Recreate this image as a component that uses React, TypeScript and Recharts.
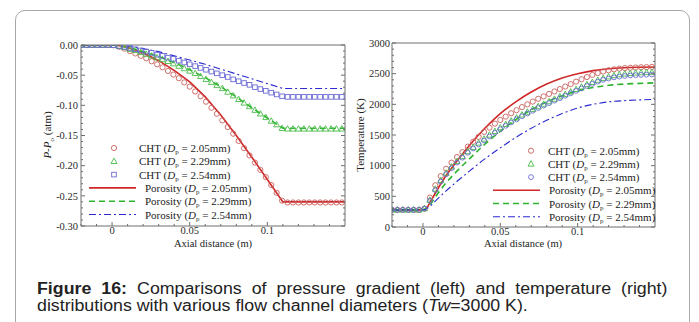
import React from "react";
import { ComposedChart, Line, Scatter, XAxis, YAxis } from "recharts";

// CHT sample positions along the channel (m)
const markerX = [
  -0.02, -0.0165, -0.013, -0.0095, -0.006, -0.0025, 0.001, 0.0045, 0.008, 0.0115,
  0.015, 0.0185, 0.022, 0.0255, 0.029, 0.0325, 0.036, 0.0395, 0.043, 0.0465,
  0.05, 0.0535, 0.057, 0.0605, 0.064, 0.0675, 0.071, 0.0745, 0.078, 0.0815,
  0.085, 0.0885, 0.092, 0.0955, 0.099, 0.1025, 0.106, 0.1095, 0.113, 0.1165,
  0.12, 0.1235, 0.127, 0.1305, 0.134, 0.1375, 0.141, 0.1445, 0.148,
];

// left: pressure P-Po (atm), CHT
const pCht205 = [
  0, 0, 0, 0, 0, 0, -0.0005, -0.003, -0.006, -0.01,
  -0.014, -0.018, -0.022, -0.027, -0.032, -0.037, -0.043, -0.049, -0.055, -0.062,
  -0.069, -0.077, -0.085, -0.094, -0.104, -0.114, -0.125, -0.136, -0.147, -0.159,
  -0.171, -0.183, -0.195, -0.207, -0.219, -0.232, -0.245, -0.258, -0.261, -0.261,
  -0.261, -0.261, -0.261, -0.261, -0.261, -0.261, -0.261, -0.261, -0.261,
];
const pCht229 = [
  0, 0, 0, 0, 0, 0, -0.0005, -0.002, -0.004, -0.007,
  -0.009, -0.012, -0.015, -0.018, -0.021, -0.024, -0.027, -0.031, -0.035, -0.039,
  -0.043, -0.047, -0.052, -0.057, -0.062, -0.067, -0.072, -0.078, -0.084, -0.09,
  -0.096, -0.102, -0.108, -0.114, -0.12, -0.126, -0.132, -0.138, -0.139, -0.139,
  -0.139, -0.139, -0.139, -0.139, -0.139, -0.139, -0.139, -0.139, -0.139,
];
const pCht254 = [
  0, 0, 0, 0, 0, 0, -0.0003, -0.0015, -0.003, -0.005,
  -0.007, -0.009, -0.011, -0.013, -0.016, -0.018, -0.021, -0.023, -0.026, -0.029,
  -0.032, -0.035, -0.038, -0.041, -0.044, -0.047, -0.05, -0.053, -0.057, -0.06,
  -0.063, -0.066, -0.07, -0.073, -0.076, -0.079, -0.082, -0.085, -0.086, -0.086,
  -0.086, -0.086, -0.086, -0.086, -0.086, -0.086, -0.086, -0.086, -0.086,
];

// left: porosity model
const pLineX = [-0.02, 0, 0.005, 0.01, 0.02, 0.03, 0.04, 0.05, 0.06, 0.07, 0.08, 0.09, 0.1, 0.11, 0.15];
const pPor205 = [0, 0, -0.001, -0.004, -0.013, -0.026, -0.042, -0.061, -0.086, -0.116, -0.15, -0.186, -0.223, -0.26, -0.26];
const pPor229 = [0, 0, -0.001, -0.004, -0.011, -0.019, -0.029, -0.041, -0.054, -0.069, -0.086, -0.104, -0.121, -0.138, -0.138];
const pPor254 = [0, 0, -0.0005, -0.002, -0.006, -0.011, -0.018, -0.025, -0.032, -0.04, -0.048, -0.056, -0.064, -0.072, -0.072];

// right: temperature (K), CHT
const tCht205 = [
  280, 280, 280, 280, 280, 280, 300, 480, 680, 830,
  950, 1050, 1140, 1220, 1310, 1390, 1470, 1550, 1620, 1685,
  1745, 1800, 1855, 1905, 1955, 2000, 2045, 2090, 2130, 2170,
  2210, 2250, 2290, 2330, 2370, 2410, 2445, 2480, 2510, 2535,
  2555, 2570, 2582, 2590, 2596, 2600, 2604, 2607, 2610,
];
const tCht229 = [
  280, 280, 280, 280, 280, 280, 300, 440, 620, 760,
  880, 980, 1070, 1150, 1230, 1300, 1370, 1435, 1500, 1560,
  1620, 1675, 1730, 1780, 1830, 1875, 1920, 1965, 2005, 2045,
  2085, 2125, 2165, 2205, 2245, 2285, 2325, 2360, 2395, 2425,
  2450, 2470, 2485, 2497, 2505, 2512, 2517, 2521, 2525,
];
const tCht254 = [
  280, 280, 280, 280, 280, 280, 300, 430, 600, 740,
  860, 960, 1050, 1130, 1210, 1280, 1345, 1410, 1475, 1535,
  1595, 1650, 1705, 1755, 1805, 1850, 1895, 1940, 1980, 2020,
  2060, 2100, 2140, 2180, 2220, 2260, 2300, 2335, 2370, 2400,
  2420, 2440, 2452, 2462, 2470, 2476, 2480, 2483, 2486,
];

// right: porosity model
const tLineX = [-0.02, 0, 0.002, 0.005, 0.01, 0.015, 0.02, 0.03, 0.04, 0.05, 0.06, 0.07, 0.08, 0.09, 0.1, 0.11, 0.12, 0.13, 0.14, 0.15];
const tPor205 = [280, 280, 300, 420, 640, 840, 1010, 1330, 1610, 1850, 2040, 2200, 2330, 2430, 2500, 2550, 2580, 2597, 2605, 2610];
const tPor229 = [280, 280, 300, 380, 560, 720, 860, 1110, 1350, 1560, 1750, 1910, 2040, 2140, 2220, 2275, 2310, 2330, 2342, 2350];
const tPor254 = [280, 280, 295, 350, 470, 590, 700, 910, 1110, 1290, 1460, 1610, 1740, 1850, 1940, 2000, 2040, 2060, 2072, 2080];

// axis ticks (labelled + minor)
const xTicks = [0, 0.05, 0.1];
const xMinor = [-0.02, -0.01, 0.01, 0.02, 0.03, 0.04, 0.06, 0.07, 0.08, 0.09, 0.11, 0.12, 0.13, 0.14];
const pTicks = [-0.3, -0.25, -0.2, -0.15, -0.1, -0.05, 0];
const pMinor = [
  -0.29, -0.28, -0.27, -0.26, -0.24, -0.23, -0.22, -0.21, -0.19, -0.18, -0.17, -0.16,
  -0.14, -0.13, -0.12, -0.11, -0.09, -0.08, -0.07, -0.06, -0.04, -0.03, -0.02, -0.01,
];
const tTicks = [0, 500, 1000, 1500, 2000, 2500, 3000];
const tMinor = [
  100, 200, 300, 400, 600, 700, 800, 900, 1100, 1200, 1300, 1400, 1600, 1700, 1800, 1900,
  2100, 2200, 2300, 2400, 2600, 2700, 2800, 2900,
];

const sizes = ["2.05", "2.29", "2.54"];

const RED = "#d02828";
const GREEN = "#2cb52c";
const BLUE = "#2a2ad0";
const RED_M = "#c8605c";
const GREEN_M = "#48bb48";
const BLUE_M = "#6a6ad4";
const AXIS = "#6e6e6e";
const SERIF = "'Liberation Serif', 'Times New Roman', serif";
const FONT = { fontFamily: SERIF, fontSize: 10.5, fill: "#2a2a2a" };

const pts = (xs: number[], ys: number[]) => xs.map((x, i) => ({ x, y: ys[i] }));

const Circle = (p: any) => <circle cx={p.cx} cy={p.cy} r={2.6} fill="none" stroke={RED_M} strokeWidth={0.9} />;
const CircleBlue = (p: any) => <circle cx={p.cx} cy={p.cy} r={2.4} fill="none" stroke={BLUE_M} strokeWidth={0.9} />;
const Tri = (p: any) => (
  <polygon
    points={`${p.cx},${p.cy - 3.2} ${p.cx - 3},${p.cy + 2.2} ${p.cx + 3},${p.cy + 2.2}`}
    fill="none"
    stroke={GREEN_M}
    strokeWidth={0.9}
  />
);
const Sq = (p: any) => (
  <rect x={p.cx - 2.3} y={p.cy - 2.3} width={4.6} height={4.6} fill="none" stroke={BLUE_M} strokeWidth={0.9} />
);

// inward tick marks, long for labelled ticks, short for minor ones
function makeTick(side: "bottom" | "top" | "left" | "right", majors: number[], fmt?: (v: number) => string, gap = 4) {
  return (p: any) => {
    const v = p.payload.value;
    const major = majors.some((m) => Math.abs(m - v) < 1e-9);
    const len = major ? 4 : 2;
    const { x, y } = p;
    if (side === "bottom" || side === "top") {
      const y2 = side === "bottom" ? y - len : y + len;
      return (
        <g>
          <line x1={x} x2={x} y1={y} y2={y2} stroke={AXIS} />
          {major && fmt && (
            <text x={x} y={y + gap} dy="0.71em" textAnchor="middle" {...FONT}>
              {fmt(v)}
            </text>
          )}
        </g>
      );
    }
    const x2 = side === "left" ? x + len : x - len;
    return (
      <g>
        <line x1={x} x2={x2} y1={y} y2={y} stroke={AXIS} />
        {major && fmt && (
          <text x={x - gap} y={y} dy="0.355em" textAnchor="end" {...FONT}>
            {fmt(v)}
          </text>
        )}
      </g>
    );
  };
}

function frameAxes(
  xDomain: number[],
  yDomain: number[],
  yTicks: number[],
  yMinor: number[],
  yFormat: (v: number) => string,
  yGap: number
) {
  const common = {
    type: "number" as const,
    allowDataOverflow: true,
    interval: 0 as const,
    stroke: AXIS,
    tickLine: false,
    tickSize: 0,
    tickMargin: 0,
  };
  const xAll = [...xMinor, ...xTicks];
  const yAll = [...yMinor, ...yTicks];
  return [
    <XAxis key="xb" xAxisId={0} dataKey="x" domain={xDomain} ticks={xAll} height={1} tick={makeTick("bottom", xTicks, (v) => String(v), 1)} {...common} />,
    <XAxis key="xt" xAxisId="t" orientation="top" domain={xDomain} ticks={xAll} height={1} tick={makeTick("top", xTicks)} {...common} />,
    <YAxis key="yl" yAxisId={0} dataKey="y" domain={yDomain} ticks={yAll} width={1} tick={makeTick("left", yTicks, yFormat, yGap)} {...common} />,
    <YAxis key="yr" yAxisId="r" orientation="right" domain={yDomain} ticks={yAll} width={1} tick={makeTick("right", yTicks)} {...common} />,
  ];
}

type Row = { kind: "circle" | "tri" | "sq" | "circleB" | "solid" | "dash" | "dashdot"; label: string; size: string };

const leftRows: Row[] = [
  { kind: "circle", label: "CHT", size: sizes[0] },
  { kind: "tri", label: "CHT", size: sizes[1] },
  { kind: "sq", label: "CHT", size: sizes[2] },
  { kind: "solid", label: "Porosity", size: sizes[0] },
  { kind: "dash", label: "Porosity", size: sizes[1] },
  { kind: "dashdot", label: "Porosity", size: sizes[2] },
];
const rightRows: Row[] = leftRows.map((r) => (r.kind === "sq" ? { ...r, kind: "circleB" } : r));

function LegendBlock({ rows, y0, dy, mx, lx1, lx2, cx, px }: any) {
  return (
    <>
      <svg width={699} height={322} style={{ position: "absolute", left: 0, top: 0, pointerEvents: "none" }}>
        {rows.map((r: Row, i: number) => {
          const y = y0 + i * dy;
          if (r.kind === "circle") return <Circle key={i} cx={mx} cy={y} />;
          if (r.kind === "circleB") return <CircleBlue key={i} cx={mx} cy={y} />;
          if (r.kind === "tri") return <Tri key={i} cx={mx} cy={y} />;
          if (r.kind === "sq") return <Sq key={i} cx={mx} cy={y} />;
          const st = r.kind === "solid" ? RED : r.kind === "dash" ? GREEN : BLUE;
          const da = r.kind === "solid" ? undefined : r.kind === "dash" ? "6 4" : "7 3 2 3";
          return <line key={i} x1={lx1} x2={lx2} y1={y} y2={y} stroke={st} strokeWidth={r.kind === "dashdot" ? 1.1 : 1.6} strokeDasharray={da} />;
        })}
      </svg>
      {rows.map((r: Row, i: number) => (
        <div
          key={i}
          style={{
            position: "absolute",
            left: r.label === "CHT" ? cx : px,
            top: y0 + i * dy - 7,
            height: 14,
            lineHeight: "14px",
            fontFamily: SERIF,
            fontSize: 11,
            color: "#222",
            whiteSpace: "nowrap",
          }}
        >
          {r.label} (<i>D</i>
          <sub style={{ fontSize: 7, verticalAlign: "-2px" }}>p</sub> = {r.size}mm)
        </div>
      ))}
    </>
  );
}

const PTitle = () => (
  <text x={51} y={135} transform="rotate(-90 51 135)" textAnchor="middle" fontFamily={SERIF} fontSize={11} fill="#222">
    <tspan fontStyle="italic">P</tspan>-<tspan fontStyle="italic">P</tspan>
    <tspan fontSize={7} dy={3}>o</tspan>
    <tspan dy={-3}> (atm)</tspan>
  </text>
);
const TTitle = () => (
  <text x={14} y={135} transform="rotate(-90 14 135)" textAnchor="middle" fontFamily={SERIF} fontSize={11} fill="#222">
    Temperature (K)
  </text>
);

const captionFont = {
  fontFamily: "'Liberation Sans', Arial, sans-serif",
  fontSize: 16,
  lineHeight: "18px",
  color: "#222",
  transform: "scaleX(1.11)",
  transformOrigin: "0 0",
};

const xTitle = {
  position: "absolute" as const,
  top: 237.5,
  width: 100,
  lineHeight: "12px",
  textAlign: "center" as const,
  fontFamily: SERIF,
  fontSize: 10.5,
  color: "#222",
  whiteSpace: "nowrap" as const,
};

export default function App() {
  return (
    <div style={{ position: "absolute", left: 0, top: 0, width: 699, height: 322, background: "#fff", overflow: "hidden" }}>
      <div
        style={{
          position: "absolute",
          left: 15,
          top: 10,
          width: 675,
          height: 340,
          border: "1px solid #a8a8a8",
          borderRadius: 10,
          boxSizing: "border-box",
        }}
      />
      <div style={{ position: "absolute", left: 0, top: 0 }}>
        <ComposedChart width={350} height={250} margin={{ top: 44, right: 4, bottom: 23, left: 80 }}>
          {frameAxes([-0.02, 0.15], [-0.3, 0], pTicks, pMinor, (v: number) => v.toFixed(2), 3)}
          <Line data={pts(pLineX, pPor205)} dataKey="y" stroke={RED} strokeWidth={1.6} dot={false} type="linear" isAnimationActive={false} />
          <Line data={pts(pLineX, pPor229)} dataKey="y" stroke={GREEN} strokeWidth={1.6} strokeDasharray="6 4" dot={false} type="linear" isAnimationActive={false} />
          <Line data={pts(pLineX, pPor254)} dataKey="y" stroke={BLUE} strokeWidth={1.1} strokeDasharray="7 3 2 3" dot={false} type="linear" isAnimationActive={false} />
          <Scatter data={pts(markerX, pCht205)} dataKey="y" shape={Circle} isAnimationActive={false} />
          <Scatter data={pts(markerX, pCht229)} dataKey="y" shape={Tri} isAnimationActive={false} />
          <Scatter data={pts(markerX, pCht254)} dataKey="y" shape={Sq} isAnimationActive={false} />
          <PTitle />
        </ComposedChart>
      </div>
      <div style={{ position: "absolute", left: 350, top: 0 }}>
        <ComposedChart width={349} height={250} margin={{ top: 42, right: 43, bottom: 22, left: 41 }}>
          {frameAxes([-0.02, 0.15], [0, 3000], tTicks, tMinor, (v: number) => String(v), 2)}
          <Line data={pts(tLineX, tPor205)} dataKey="y" stroke={RED} strokeWidth={1.6} dot={false} type="monotone" isAnimationActive={false} />
          <Line data={pts(tLineX, tPor229)} dataKey="y" stroke={GREEN} strokeWidth={1.6} strokeDasharray="6 4" dot={false} type="monotone" isAnimationActive={false} />
          <Line data={pts(tLineX, tPor254)} dataKey="y" stroke={BLUE} strokeWidth={1.1} strokeDasharray="7 3 2 3" dot={false} type="monotone" isAnimationActive={false} />
          <Scatter data={pts(markerX, tCht205)} dataKey="y" shape={Circle} isAnimationActive={false} />
          <Scatter data={pts(markerX, tCht229)} dataKey="y" shape={Tri} isAnimationActive={false} />
          <Scatter data={pts(markerX, tCht254)} dataKey="y" shape={CircleBlue} isAnimationActive={false} />
          <TTitle />
        </ComposedChart>
      </div>
      <div style={{ ...xTitle, left: 163 }}>Axial distance (m)</div>
      <div style={{ ...xTitle, left: 473 }}>Axial distance (m)</div>
      <LegendBlock rows={leftRows} y0={148} dy={13.3} mx={114} lx1={89} lx2={136} cx={139} px={145} />
      <LegendBlock rows={rightRows} y0={150.7} dy={13.2} mx={531} lx1={493} lx2={540} cx={548} px={549} />
      <div style={{ position: "absolute", left: 37, top: 280, width: 568, textAlign: "justify", textAlignLast: "justify", ...captionFont }}>
        <b>Figure 16:</b> Comparisons of pressure gradient (left) and temperature (right)
      </div>
      <div style={{ position: "absolute", left: 37, top: 297, whiteSpace: "nowrap", ...captionFont }}>
        distributions with various flow channel diameters (<i>Tw</i>=3000 K).
      </div>
    </div>
  );
}
